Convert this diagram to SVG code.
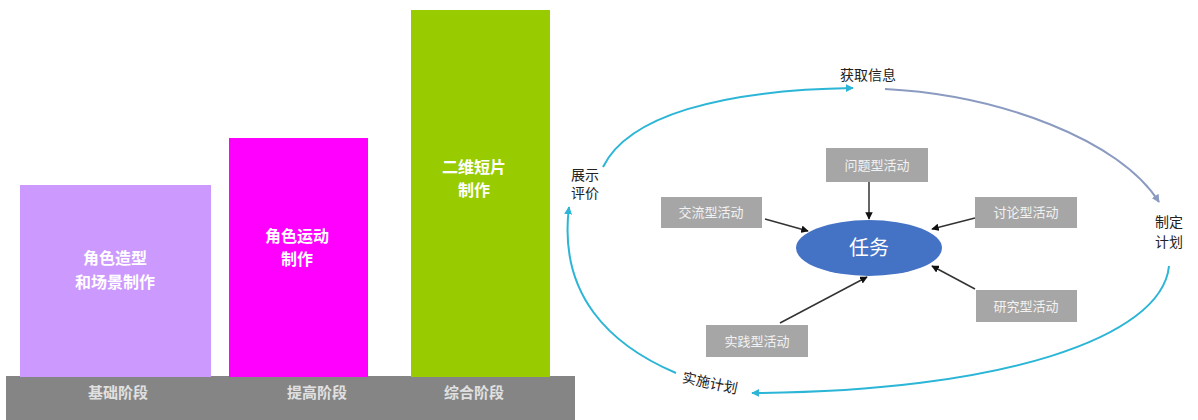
<svg xmlns="http://www.w3.org/2000/svg" width="1198" height="420" viewBox="0 0 1198 420">
<style>
.bart{font-family:"Noto Sans CJK SC","Noto Sans",sans-serif;font-weight:bold;font-size:16px;fill:#ffffff;text-anchor:middle}
.baset{font-family:"Noto Sans CJK SC","Noto Sans",sans-serif;font-weight:bold;font-size:15px;fill:#e0e0e0;text-anchor:middle}
.lbl{font-family:"Noto Sans CJK SC","Noto Sans",sans-serif;font-size:14px;fill:#222222;text-anchor:middle}
.box{fill:#a6a6a6}
.boxt{font-family:"Noto Sans CJK SC","Noto Sans",sans-serif;font-size:13px;fill:#f2f2f2;text-anchor:middle}
.blue{fill:none;stroke:#2bb5d6;stroke-width:2}
.grayb{fill:none;stroke:#8a9ac0;stroke-width:2}
.blk{fill:none;stroke:#333333;stroke-width:1.5}
</style>
<defs>
<marker id="ab" viewBox="0 0 10 10" refX="9" refY="5" markerWidth="4" markerHeight="4" orient="auto"><path d="M0,0 L10,5 L0,10 z" fill="#2bb5d6"/></marker>
<marker id="ag" viewBox="0 0 10 10" refX="9" refY="5" markerWidth="4" markerHeight="4" orient="auto"><path d="M0,0 L10,5 L0,10 z" fill="#8a9ac0"/></marker>
<marker id="ak" viewBox="0 0 10 10" refX="9" refY="5" markerWidth="5" markerHeight="5" orient="auto"><path d="M0,0 L10,5 L0,10 z" fill="#111111"/></marker>
</defs>
<rect width="1198" height="420" fill="#ffffff"/>

<g id="base">
<rect x="6" y="376" width="569" height="44" fill="#858585"/>
<text class="baset" x="118" y="398">基础阶段</text>
<text class="baset" x="317" y="398">提高阶段</text>
<text class="baset" x="474" y="398">综合阶段</text>
</g>
<g id="bar1">
<rect x="20" y="185" width="191" height="192" fill="#cc99ff"/>
<text class="bart" x="115" y="264">角色造型</text>
<text class="bart" x="115" y="288">和场景制作</text>
</g>
<g id="bar2">
<rect x="229" y="138" width="139" height="239" fill="#ff00ff"/>
<text class="bart" x="297" y="242">角色运动</text>
<text class="bart" x="297" y="265">制作</text>
</g>
<g id="bar3">
<rect x="411" y="10" width="139" height="367" fill="#99cc00"/>
<text class="bart" x="474" y="173">二维短片</text>
<text class="bart" x="474" y="196">制作</text>
</g>

<g id="connectors">
<path class="blue" d="M603,167 C628,116 720,90 853,88" marker-end="url(#ab)"/>
<path class="grayb" d="M885,89 C1000,95 1120,140 1159,202" marker-end="url(#ag)"/>
<path class="blue" d="M1169,266 C1162,338 1000,392 752,393" marker-end="url(#ab)"/>
<path class="blue" d="M676,373 C610,345 558,295 569,207" marker-end="url(#ab)"/>
<line class="blk" x1="869" y1="182" x2="869" y2="219" marker-end="url(#ak)"/>
<line class="blk" x1="765" y1="219" x2="808" y2="231" marker-end="url(#ak)"/>
<line class="blk" x1="975" y1="218" x2="932" y2="229" marker-end="url(#ak)"/>
<line class="blk" x1="975" y1="289" x2="932" y2="266" marker-end="url(#ak)"/>
<line class="blk" x1="780" y1="323" x2="867" y2="277" marker-end="url(#ak)"/>
</g>

<g id="label-huoqu"><text class="lbl" x="868" y="80">获取信息</text></g>
<g id="label-zhanshi"><text class="lbl" x="585" y="180">展示</text><text class="lbl" x="585" y="198">评价</text></g>
<g id="label-zhiding"><text class="lbl" x="1169" y="227">制定</text><text class="lbl" x="1169" y="247">计划</text></g>
<g id="label-shishi"><text class="lbl" x="710" y="388" transform="rotate(12 710 383)">实施计划</text></g>

<g id="task">
<ellipse cx="869" cy="248" rx="73" ry="28" fill="#4472c4"/>
<text x="869" y="255" font-family="'Noto Sans CJK SC','Noto Sans',sans-serif" font-size="20" fill="#ffffff" text-anchor="middle">任务</text>
</g>
<g id="wenti"><rect class="box" x="826" y="148" width="102" height="34"/><text class="boxt" x="877" y="170">问题型活动</text></g>
<g id="jiaoliu"><rect class="box" x="661" y="197" width="101" height="31"/><text class="boxt" x="711" y="217">交流型活动</text></g>
<g id="taolun"><rect class="box" x="975" y="197" width="102" height="31"/><text class="boxt" x="1026" y="217">讨论型活动</text></g>
<g id="yanjiu"><rect class="box" x="976" y="290" width="101" height="32"/><text class="boxt" x="1026" y="311">研究型活动</text></g>
<g id="shijian"><rect class="box" x="706" y="325" width="102" height="32"/><text class="boxt" x="757" y="346">实践型活动</text></g>
</svg>
